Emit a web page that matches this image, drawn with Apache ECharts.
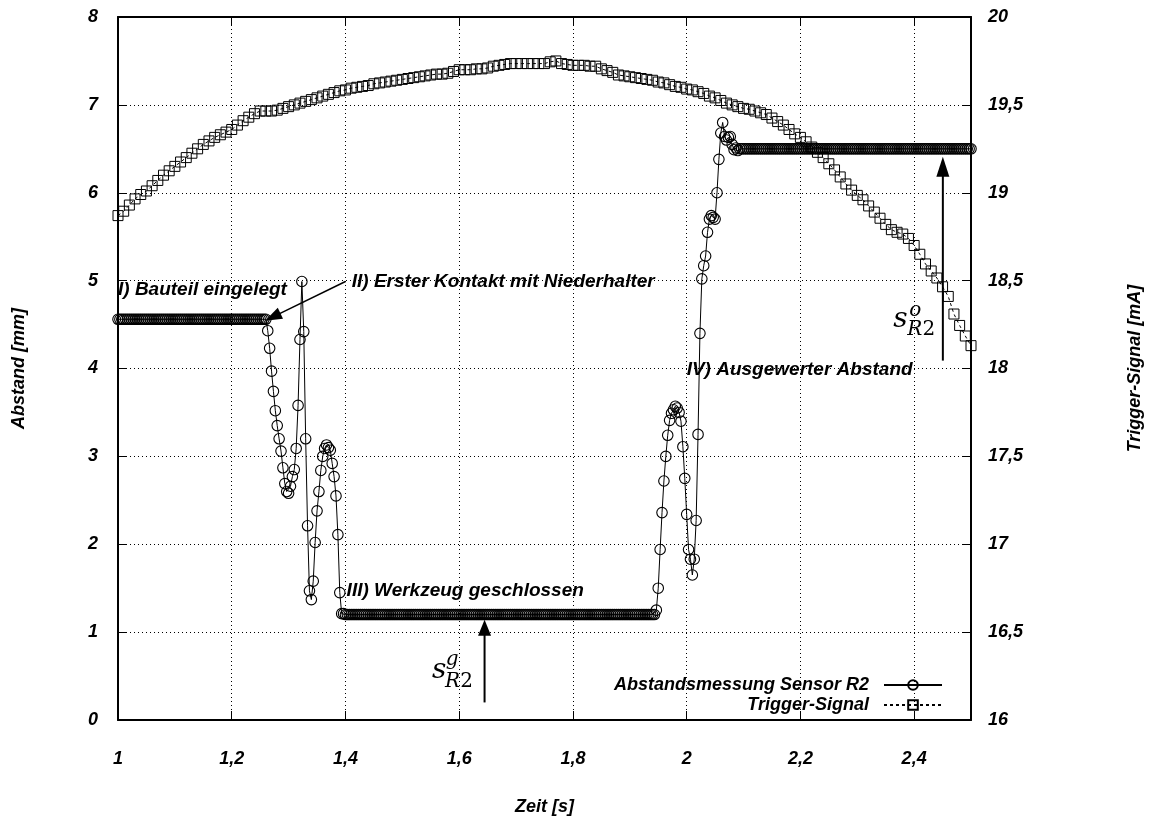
<!DOCTYPE html>
<html><head><meta charset="utf-8">
<script src="https://cdn.jsdelivr.net/npm/echarts/dist/echarts.min.js"></script>
<style>html,body{margin:0;padding:0;background:#fff}#c{width:1152px;height:821px}</style>
</head><body><div id="c"></div>
<script>
// ---- tick labels ----
const xTickValues = [1, 1.2, 1.4, 1.6, 1.8, 2, 2.2, 2.4];
const xTickLabels = ['1', '1,2', '1,4', '1,6', '1,8', '2', '2,2', '2,4'];
const yLeftTickLabels = ['0', '1', '2', '3', '4', '5', '6', '7', '8'];
const yRightTickLabels = ['16', '16,5', '17', '17,5', '18', '18,5', '19', '19,5', '20'];

// ---- Abstandsmessung Sensor R2 (mm), sampled every 1/300 s from t = 1 s ----
const abstandStart = 1.0;
const abstandStep = 1 / 300;
const abstandValues = [
  4.56,4.56,4.56,4.56,4.56,4.56,4.56,4.56,4.56,4.56,
  4.56,4.56,4.56,4.56,4.56,4.56,4.56,4.56,4.56,4.56,
  4.56,4.56,4.56,4.56,4.56,4.56,4.56,4.56,4.56,4.56,
  4.56,4.56,4.56,4.56,4.56,4.56,4.56,4.56,4.56,4.56,
  4.56,4.56,4.56,4.56,4.56,4.56,4.56,4.56,4.56,4.56,
  4.56,4.56,4.56,4.56,4.56,4.56,4.56,4.56,4.56,4.56,
  4.56,4.56,4.56,4.56,4.56,4.56,4.56,4.56,4.56,4.56,
  4.56,4.56,4.56,4.56,4.56,4.56,4.56,4.56,4.56,
  4.43,4.23,3.97,3.74,3.52,3.35,3.20,3.06,2.87,2.69,
  2.60,2.58,2.66,2.77,2.85,3.09,3.58,4.33,4.99,4.42,
  3.20,2.21,1.47,1.37,1.58,2.02,2.38,2.60,2.84,3.00,
  3.09,3.13,3.10,3.07,2.92,2.77,2.55,2.11,1.45,1.21,
  1.21,1.2,1.2,1.2,1.2,1.2,1.2,1.2,1.2,1.2,
  1.2,1.2,1.2,1.2,1.2,1.2,1.2,1.2,1.2,1.2,
  1.2,1.2,1.2,1.2,1.2,1.2,1.2,1.2,1.2,1.2,
  1.2,1.2,1.2,1.2,1.2,1.2,1.2,1.2,1.2,1.2,
  1.2,1.2,1.2,1.2,1.2,1.2,1.2,1.2,1.2,1.2,
  1.2,1.2,1.2,1.2,1.2,1.2,1.2,1.2,1.2,1.2,
  1.2,1.2,1.2,1.2,1.2,1.2,1.2,1.2,1.2,1.2,
  1.2,1.2,1.2,1.2,1.2,1.2,1.2,1.2,1.2,1.2,
  1.2,1.2,1.2,1.2,1.2,1.2,1.2,1.2,1.2,1.2,
  1.2,1.2,1.2,1.2,1.2,1.2,1.2,1.2,1.2,1.2,
  1.2,1.2,1.2,1.2,1.2,1.2,1.2,1.2,1.2,1.2,
  1.2,1.2,1.2,1.2,1.2,1.2,1.2,1.2,1.2,1.2,
  1.2,1.2,1.2,1.2,1.2,1.2,1.2,1.2,1.2,1.2,
  1.2,1.2,1.2,1.2,1.2,1.2,1.2,1.2,1.2,1.2,
  1.2,1.2,1.2,1.2,1.2,1.2,1.2,1.2,1.2,1.2,
  1.2,1.2,1.2,1.2,1.2,1.2,1.2,1.2,1.2,1.2,
  1.2,1.2,1.2,1.2,1.2,
  1.25,
  1.50,1.94,2.36,2.72,3.00,3.24,3.41,3.49,3.53,3.57,
  3.55,3.50,3.40,3.11,2.75,2.34,1.94,1.83,1.65,1.83,
  2.27,3.25,4.40,5.02,5.17,5.28,5.55,5.70,5.74,5.72,
  5.70,6.00,6.38,6.68,6.80,6.64,6.60,6.63,6.64,6.55,
  6.49,6.51,6.48,
  6.5,6.5,6.5,6.5,6.5,6.5,6.5,6.5,6.5,6.5,
  6.5,6.5,6.5,6.5,6.5,6.5,6.5,6.5,6.5,6.5,
  6.5,6.5,6.5,6.5,6.5,6.5,6.5,6.5,6.5,6.5,
  6.5,6.5,6.5,6.5,6.5,6.5,6.5,6.5,6.5,6.5,
  6.5,6.5,6.5,6.5,6.5,6.5,6.5,6.5,6.5,6.5,
  6.5,6.5,6.5,6.5,6.5,6.5,6.5,6.5,6.5,6.5,
  6.5,6.5,6.5,6.5,6.5,6.5,6.5,6.5,6.5,6.5,
  6.5,6.5,6.5,6.5,6.5,6.5,6.5,6.5,6.5,6.5,
  6.5,6.5,6.5,6.5,6.5,6.5,6.5,6.5,6.5,6.5,
  6.5,6.5,6.5,6.5,6.5,6.5,6.5,6.5,6.5,6.5,
  6.5,6.5,6.5,6.5,6.5,6.5,6.5,6.5,6.5,6.5,
  6.5,6.5,6.5,6.5,6.5,6.5,6.5,6.5,6.5,6.5,
  6.5,6.5,6.5
];

// ---- Trigger-Signal (mA), sampled every 0.01 s from t = 1 s ----
const triggerStart = 1.0;
const triggerStep = 0.01;
const triggerValues = [
  18.870,18.895,18.930,18.965,18.990,19.010,19.040,19.070,19.100,19.125,
  19.150,19.175,19.200,19.225,19.250,19.275,19.295,19.315,19.330,19.345,
  19.360,19.385,19.410,19.430,19.450,19.465,19.465,19.465,19.470,19.480,
  19.490,19.500,19.510,19.520,19.530,19.540,19.550,19.560,19.570,19.580,
  19.585,19.595,19.600,19.605,19.610,19.620,19.625,19.630,19.635,19.640,
  19.645,19.650,19.655,19.660,19.665,19.670,19.675,19.675,19.680,19.690,
  19.700,19.700,19.700,19.705,19.705,19.710,19.720,19.725,19.730,19.735,
  19.735,19.735,19.735,19.735,19.735,19.735,19.745,19.750,19.735,19.730,
  19.725,19.725,19.725,19.720,19.720,19.705,19.695,19.685,19.670,19.665,
  19.660,19.655,19.650,19.645,19.640,19.630,19.625,19.615,19.605,19.600,
  19.590,19.585,19.575,19.565,19.550,19.540,19.525,19.510,19.500,19.490,
  19.480,19.475,19.465,19.455,19.445,19.425,19.405,19.385,19.360,19.335,
  19.315,19.290,19.260,19.230,19.200,19.165,19.130,19.090,19.050,19.015,
  18.985,18.960,18.925,18.890,18.855,18.820,18.790,18.775,18.765,18.740,
  18.700,18.650,18.595,18.555,18.515,18.465,18.410,18.310,18.245,18.185,
  18.130
];

const abstandData = abstandValues.map((v, i) => [abstandStart + i * abstandStep, v]);
const triggerData = triggerValues.map((v, i) => [triggerStart + i * triggerStep, v]);

const FONT = '"Liberation Sans", Arial, sans-serif';
const lbl = { fontFamily: FONT, fontStyle: 'italic', fontWeight: 'bold', fontSize: 18, color: '#000' };
const xLabel = v => { const k = xTickValues.findIndex(t => Math.abs(t - v) < 1e-6); return k >= 0 ? xTickLabels[k] : ''; };
const yLLabel = v => { const k = Math.round(v); return Math.abs(k - v) < 1e-6 ? (yLeftTickLabels[k] || '') : ''; };
const yRLabel = v => { const k = Math.round((v - 16) / 0.5); return yRightTickLabels[k] || ''; };

const chart = echarts.init(document.getElementById('c'), null, { renderer: 'canvas' });
const axisLineStyle = { show: true, lineStyle: { color: '#000', width: 2 } };
const tickIn = { show: true, inside: true, length: 9, lineStyle: { color: '#000', width: 1 } };

const option = {
  animation: false,
  backgroundColor: '#fff',
  textStyle: { fontFamily: FONT },
  grid: { left: 118, right: 176, top: 17, bottom: 98, containLabel: false },
  xAxis: [
    { type: 'value', position: 'bottom', min: 1, max: 2.5, interval: 0.2,
      name: 'Zeit [s]', nameLocation: 'middle', nameGap: 78,
      nameTextStyle: Object.assign({}, lbl),
      axisLine: axisLineStyle, axisTick: tickIn,
      axisLabel: Object.assign({ margin: 30, formatter: xLabel, showMaxLabel: false }, lbl),
      splitLine: { show: true, lineStyle: { color: '#000', width: 1, type: [1, 3] } } },
    { type: 'value', position: 'top', min: 1, max: 2.5, interval: 0.2,
      axisLine: axisLineStyle, axisTick: tickIn, axisLabel: { show: false }, splitLine: { show: false } }
  ],
  yAxis: [
    { type: 'value', position: 'left', min: 0, max: 8, interval: 1,
      name: 'Abstand [mm]', nameLocation: 'middle', nameGap: 90, nameRotate: 90,
      nameTextStyle: Object.assign({}, lbl),
      axisLine: axisLineStyle, axisTick: tickIn,
      axisLabel: Object.assign({ margin: 20, formatter: yLLabel }, lbl),
      splitLine: { show: true, lineStyle: { color: '#000', width: 1, type: [1, 3] } } },
    { type: 'value', position: 'right', min: 16, max: 20, interval: 0.5,
      name: 'Trigger-Signal [mA]', nameLocation: 'middle', nameGap: 155, nameRotate: 90,
      nameTextStyle: Object.assign({}, lbl),
      axisLine: axisLineStyle, axisTick: tickIn,
      axisLabel: Object.assign({ margin: 17, formatter: yRLabel }, lbl),
      splitLine: { show: false } }
  ],
  legend: [
    { data: ['Abstandsmessung Sensor R2'], right: 209, top: 676, align: 'right', orient: 'vertical',
      itemWidth: 58, itemHeight: 12, padding: 0, selectedMode: false,
      textStyle: Object.assign({ padding: [0, 10, 0, 0] }, lbl) },
    { data: ['Trigger-Signal'], right: 209, top: 696, align: 'right', orient: 'vertical',
      itemWidth: 58, itemHeight: 12, padding: 0, selectedMode: false,
      textStyle: Object.assign({ padding: [0, 10, 0, 0] }, lbl) }
  ],
  series: [
    { name: 'Abstandsmessung Sensor R2', type: 'line', xAxisIndex: 0, yAxisIndex: 0,
      data: abstandData, symbol: 'circle', symbolSize: 10.5, showAllSymbol: true,
      itemStyle: { color: 'rgba(0,0,0,0)', borderColor: '#000', borderWidth: 1.1 },
      lineStyle: { color: '#000', width: 1 }, emphasis: { disabled: true }, z: 2 },
    { name: 'Trigger-Signal', type: 'line', xAxisIndex: 0, yAxisIndex: 1,
      data: triggerData, symbol: 'rect', symbolSize: 10, showAllSymbol: true,
      itemStyle: { color: 'rgba(0,0,0,0)', borderColor: '#000', borderWidth: 1 },
      lineStyle: { color: '#000', width: 1, type: [3, 3] }, emphasis: { disabled: true }, z: 3 }
  ]
};
chart.setOption(option);

// ---- annotations (positioned in data units, converted through the axes) ----
const P = (t, v) => chart.convertToPixel({ xAxisIndex: 0, yAxisIndex: 0 }, [t, v]);
const annFont = 'italic bold 19px ' + FONT;
const notes = [
  { text: 'I) Bauteil eingelegt', at: [1.0, 4.90] },
  { text: 'II) Erster Kontakt mit Niederhalter', at: [1.411, 4.99] },
  { text: 'III) Werkzeug geschlossen', at: [1.402, 1.47] },
  { text: 'IV) Ausgewerter Abstand', at: [2.0, 3.98] }
];
const arrows = [
  { from: [1.400, 4.99], to: [1.2587, 4.544], len: 17, w: 12, lw: 1.5 },
  { from: [1.6446, 0.20], to: [1.6446, 1.14], len: 16, w: 13, lw: 2 },
  { from: [2.4505, 4.09], to: [2.4505, 6.41], len: 20, w: 13, lw: 2 }
];
const g = [];
notes.forEach(n => {
  const p = P(n.at[0], n.at[1]);
  g.push({ type: 'text', x: p[0], y: p[1], z: 20,
    style: { text: n.text, font: annFont, fill: '#000', align: 'left', textAlign: 'left', verticalAlign: 'middle', textVerticalAlign: 'middle' } });
});
arrows.forEach(a => {
  const p0 = P(a.from[0], a.from[1]), p1 = P(a.to[0], a.to[1]);
  const dx = p1[0] - p0[0], dy = p1[1] - p0[1], L = Math.hypot(dx, dy);
  const ux = dx / L, uy = dy / L, nx = -uy, ny = ux;
  const bx = p1[0] - ux * a.len, by = p1[1] - uy * a.len;
  g.push({ type: 'line', z: 20, shape: { x1: p0[0], y1: p0[1], x2: bx + ux * 2, y2: by + uy * 2 }, style: { stroke: '#000', lineWidth: a.lw } });
  g.push({ type: 'polygon', z: 20, shape: { points: [[p1[0], p1[1]], [bx + nx * a.w / 2, by + ny * a.w / 2], [bx - nx * a.w / 2, by - ny * a.w / 2]] }, style: { fill: '#000' } });
});
const SERIF = '"DejaVu Serif", "Liberation Serif", serif';
const mathRich = {
  r: { fontFamily: SERIF, fontStyle: 'italic', fontSize: 20, color: '#000' },
  n: { fontFamily: SERIF, fontStyle: 'normal', fontSize: 20, color: '#000' }
};
const mathTexts = [
  { text: '{r|s}', at: [1.5647, 0.560], size: 28, align: 'center' },
  { text: '{r|g}', at: [1.5874, 0.690], size: 20, align: 'center' },
  { text: '{r|R}{n|2}', at: [1.5752, 0.440], size: 20, align: 'left' },
  { text: '{r|s}', at: [2.3759, 4.550], size: 28, align: 'center' },
  { text: '{r|o}', at: [2.4021, 4.660], size: 20, align: 'center' },
  { text: '{r|R}{n|2}', at: [2.3881, 4.440], size: 20, align: 'left' }
];
mathTexts.forEach(m => {
  const p = P(m.at[0], m.at[1]);
  const rich = { r: Object.assign({}, mathRich.r, { fontSize: m.size }), n: mathRich.n };
  g.push({ type: 'text', x: p[0], y: p[1], z: 20,
    style: { text: m.text, rich: rich, fill: '#000', align: m.align, textAlign: m.align, verticalAlign: 'middle', textVerticalAlign: 'middle' } });
});
chart.setOption({ graphic: g });
</script>
</body></html>
